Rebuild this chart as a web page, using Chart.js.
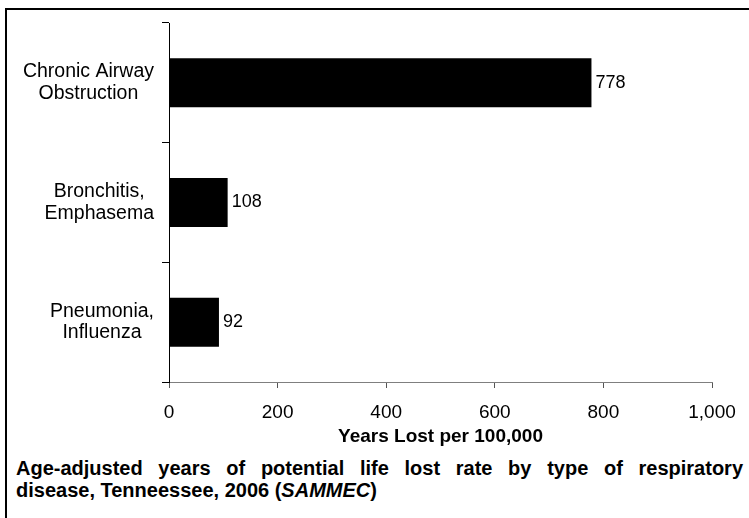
<!DOCTYPE html>
<html>
<head>
<meta charset="utf-8">
<script src="https://cdn.jsdelivr.net/npm/chart.js@4.4.0/dist/chart.umd.min.js"></script>
<style>
  html, body { margin: 0; padding: 0; background: #ffffff; }
  #wrap { position: relative; width: 749px; height: 518px; overflow: hidden; background: #fff; }
  #frame { position: absolute; left: 5px; top: 8px; width: 760px; height: 520px;
           border-left: 2px solid #000; border-top: 2px solid #000; box-sizing: border-box; }
  #cv { position: absolute; left: 0; top: 0; }
  #caption { position: absolute; left: 16px; top: 457px; width: 727px;
             font-family: "Liberation Sans", Arial, sans-serif; font-weight: bold;
             font-size: 20px; line-height: 22px; color: #000; }
  #caption .l1 { text-align: justify; text-align-last: justify; }
  #caption .l2 { text-align: left; white-space: nowrap; }
</style>
</head>
<body>
<div id="wrap">
  <div id="frame"></div>
  <canvas id="cv" width="749" height="452"></canvas>
  <div id="caption">
    <div class="l1">Age-adjusted years of potential life lost rate by type of respiratory</div>
    <div class="l2">disease, Tenneessee, 2006 (<i>SAMMEC</i>)</div>
  </div>
</div>
<script>
const categories = [
  ["Chronic Airway", "Obstruction"],
  ["Bronchitis,", "Emphasema"],
  ["Pneumonia,", "Influenza"]
];
const values = [778, 108, 92];
const xTicks = [0, 200, 400, 600, 800, 1000];
const xAxisTitle = "Years Lost per 100,000";

const FONT = '"Liberation Sans", Arial, sans-serif';

const yLabelPlugin = {
  id: 'yLabels',
  afterDraw(chart) {
    const ctx = chart.ctx;
    const ys = chart.scales.y;
    ctx.save();
    ctx.font = '19.5px ' + FONT;
    ctx.fillStyle = '#000';
    ctx.textAlign = 'center';
    ctx.textBaseline = 'middle';
    const lh = 21.6;
    categories.forEach((lines, i) => {
      const yc = ys.getPixelForValue(i);
      const w = Math.max(...lines.map(l => ctx.measureText(l).width));
      const cx = chart.chartArea.left - 15 - w / 2;
      lines.forEach((l, j) => {
        ctx.fillText(l, cx, yc + (j - (lines.length - 1) / 2) * lh);
      });
    });
    ctx.restore();
  }
};

const valueLabelPlugin = {
  id: 'valueLabels',
  afterDatasetsDraw(chart) {
    const ctx = chart.ctx;
    const meta = chart.getDatasetMeta(0);
    ctx.save();
    ctx.font = '18px ' + FONT;
    ctx.fillStyle = '#000';
    ctx.textAlign = 'left';
    ctx.textBaseline = 'middle';
    meta.data.forEach((bar, i) => {
      ctx.fillText(String(values[i]), bar.x + 4, bar.y);
    });
    ctx.restore();
  }
};

new Chart(document.getElementById('cv'), {
  type: 'bar',
  data: {
    labels: categories.map(c => c.join(' ')),
    datasets: [{
      data: values,
      backgroundColor: '#000000',
      borderWidth: 0,
      categoryPercentage: 1.0,
      barPercentage: 0.41
    }]
  },
  options: {
    indexAxis: 'y',
    responsive: false,
    animation: false,
    events: [],
    layout: { padding: { top: 23, right: 37, left: 0, bottom: 0 } },
    plugins: { legend: { display: false }, tooltip: { enabled: false }, title: { display: false } },
    scales: {
      x: {
        min: 0, max: 1000,
        afterBuildTicks(scale) { scale.ticks = xTicks.map(v => ({ value: v })); },
        afterFit(scale) { scale.height = 70; },
        ticks: {
          color: '#000',
          font: { family: FONT, size: 19 },
          padding: 13,
          maxRotation: 0,
          callback: v => v.toLocaleString('en-US')
        },
        grid: { drawOnChartArea: false, drawTicks: true, tickLength: 6, color: '#555' },
        border: { display: true, color: '#7f7f7f', width: 1 },
        title: {
          display: true, text: xAxisTitle, color: '#000',
          font: { family: FONT, size: 19, weight: 'bold' },
          padding: { top: 0, bottom: 4 }
        }
      },
      y: {
        afterFit(scale) { scale.width = 169; },
        ticks: { display: false },
        grid: { offset: true, drawOnChartArea: false, drawTicks: true, tickLength: 7, color: '#000' },
        border: { display: true, color: '#000', width: 1 }
      }
    }
  },
  plugins: [yLabelPlugin, valueLabelPlugin]
});
</script>
</body>
</html>
